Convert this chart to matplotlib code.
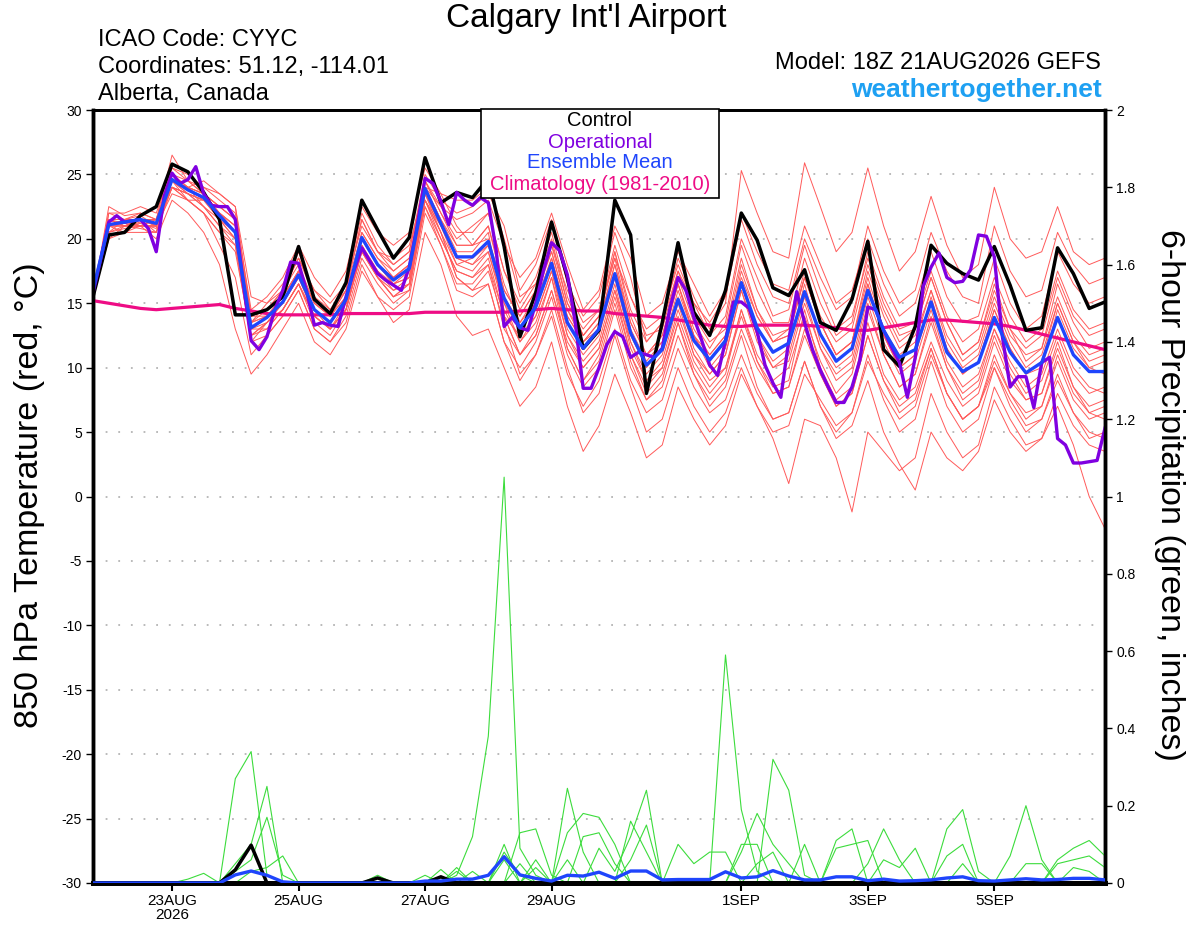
import numpy as np
import pandas as pd
import matplotlib
matplotlib.use('Agg')
import matplotlib.pyplot as plt
from matplotlib.patches import Rectangle

plt.rcParams['font.family'] = 'Liberation Sans'
plt.rcParams['axes.unicode_minus'] = False

# 6-hourly ensemble times, 3-hourly operational run
times6 = pd.date_range('2026-08-21 18:00', periods=65, freq='6h')
times3 = pd.date_range('2026-08-21 18:00', periods=129, freq='3h')

tick_dates = ['2026-08-23', '2026-08-25', '2026-08-27', '2026-08-29',
              '2026-09-01', '2026-09-03', '2026-09-05']
tick_labels = ['23AUG\n2026', '25AUG', '27AUG', '29AUG', '1SEP', '3SEP', '5SEP']

# 850 hPa temperature (C)
control_t = [15.5, 20.3, 20.5, 21.8, 22.5, 25.8, 25.2, 23.6, 21.5, 14.1, 14.1, 14.5, 15.5,
             19.4, 15.3, 14.2, 16.6, 23.0, 20.7, 18.5, 20.1, 26.3, 22.8, 23.6, 23.2, 24.7,
             19.4, 12.4, 15.8, 21.3, 17.0, 11.5, 12.9, 23.0, 20.3, 8.0, 13.5, 19.7, 14.3,
             12.5, 16.0, 22.0, 19.9, 16.2, 15.6, 17.6, 13.5, 12.9, 15.3, 19.8, 11.4, 10.1,
             13.2, 19.5, 18.1, 17.3, 16.8, 19.4, 16.4, 12.9, 13.1, 19.3, 17.3, 14.6, 15.1]

mean_t = [16.0, 21.1, 21.3, 21.5, 21.2, 24.6, 23.8, 23.2, 21.8, 20.5, 13.1, 13.9, 15.1,
          17.2, 14.5, 13.5, 15.3, 20.1, 18.0, 16.8, 17.7, 23.9, 21.2, 18.6, 18.6, 19.8,
          15.4, 13.1, 14.7, 18.1, 13.5, 11.5, 13.0, 17.3, 12.7, 10.2, 11.4, 15.3, 12.1,
          10.6, 12.1, 16.6, 13.1, 11.2, 11.9, 15.9, 12.6, 10.5, 11.5, 16.0, 12.9, 10.8,
          11.4, 15.1, 11.2, 9.7, 10.4, 13.9, 11.2, 9.6, 10.4, 13.9, 11.0, 9.7, 9.7]

clim_t = [15.2, 15.0, 14.8, 14.6, 14.5, 14.6, 14.7, 14.8, 14.9, 14.6, 14.4, 14.2, 14.1,
          14.1, 14.1, 14.1, 14.2, 14.2, 14.2, 14.2, 14.2, 14.3, 14.3, 14.3, 14.3, 14.3,
          14.3, 14.4, 14.5, 14.6, 14.5, 14.4, 14.4, 14.2, 14.1, 14.0, 13.9, 13.7, 13.5,
          13.3, 13.2, 13.2, 13.3, 13.3, 13.3, 13.3, 13.2, 13.1, 12.9, 12.9, 13.1, 13.3,
          13.5, 13.7, 13.7, 13.6, 13.5, 13.4, 13.2, 12.9, 12.6, 12.3, 12.0, 11.7, 11.4]

oper_t = [15.8, 18.5, 21.3, 21.8, 21.3, 21.4, 21.5, 20.8,
          19.0, 23.3, 25.1, 24.3, 24.6, 25.6, 23.5, 22.6,
          22.5, 22.5, 21.5, 16.6, 12.1, 11.4, 12.4, 14.5,
          16.0, 18.2, 18.1, 16.0, 13.3, 13.5, 13.3, 13.2,
          15.5, 17.5, 19.3, 18.3, 17.3, 16.8, 16.4, 16.0,
          17.8, 21.0, 24.7, 24.3, 22.9, 21.1, 23.6, 23.0,
          22.6, 23.2, 22.8, 19.1, 13.2, 13.9, 13.1, 12.9,
          15.0, 17.6, 19.7, 19.1, 17.2, 13.5, 8.4, 8.4,
          10.0, 11.8, 12.8, 12.4, 10.8, 11.2, 11.0, 10.8,
          11.5, 14.7, 17.0, 16.0, 13.9, 12.1, 10.2, 9.4,
          12.1, 15.1, 15.1, 14.6, 12.8, 10.2, 8.8, 7.7,
          12.1, 15.9, 13.5, 11.4, 9.8, 8.5, 7.3, 7.3,
          8.5, 10.6, 14.7, 14.5, 12.9, 11.6, 10.4, 7.7,
          10.8, 16.3, 17.8, 18.9, 17.0, 16.6, 16.7, 17.6,
          20.3, 20.2, 18.6, 12.5, 8.5, 9.3, 9.3, 6.9,
          10.4, 10.8, 4.5, 4.0, 2.6, 2.6, 2.7, 2.8,
          5.3]

t_p01 = [15.4, 22.5, 21.8, 22.0, 21.5, 26.5, 24.5, 24.0, 23.5, 22.5, 14.0, 14.5, 16.0,
         18.5, 16.0, 15.0, 16.5, 22.0, 19.5, 18.0, 19.0, 25.0, 23.0, 22.0, 22.5, 23.5,
         21.0, 16.0, 18.0, 21.5, 16.5, 14.0, 15.5, 20.5, 17.0, 12.0, 13.5, 18.5, 15.5,
         13.0, 15.0, 25.3, 22.0, 19.0, 18.5, 25.9, 22.5, 19.0, 20.5, 25.5, 21.0, 17.5,
         19.0, 23.3, 19.5, 17.0, 18.0, 24.0, 20.0, 18.5, 19.0, 22.5, 19.0, 18.0, 18.5]
t_p02 = [15.6, 21.5, 21.0, 21.2, 20.8, 25.0, 24.0, 23.5, 22.5, 21.5, 13.5, 14.0, 15.5,
         19.0, 15.5, 14.0, 16.0, 21.5, 19.0, 17.5, 18.5, 24.5, 22.0, 20.0, 21.0, 22.0,
         17.5, 14.5, 16.5, 20.0, 15.0, 13.0, 14.5, 19.5, 15.5, 13.0, 14.0, 18.0, 15.0,
         13.5, 15.5, 21.5, 18.0, 15.5, 15.0, 20.0, 17.0, 14.5, 15.5, 21.0, 17.5, 15.0,
         16.0, 20.5, 17.5, 15.5, 15.0, 21.0, 17.5, 15.5, 16.0, 20.5, 18.0, 16.5, 17.0]
t_p03 = [15.5, 20.5, 21.5, 21.8, 21.0, 24.0, 23.5, 22.5, 21.0, 19.5, 12.5, 13.5, 15.0,
         17.0, 14.0, 13.0, 15.0, 19.5, 17.5, 16.0, 17.0, 23.5, 21.0, 18.5, 18.0, 19.5,
         15.0, 13.0, 15.0, 18.5, 14.0, 12.0, 13.5, 18.0, 13.5, 11.0, 12.5, 16.5, 13.0,
         11.0, 12.5, 17.0, 14.0, 12.0, 12.5, 17.0, 13.5, 11.0, 12.0, 17.5, 14.0, 11.5,
         12.5, 16.0, 12.5, 10.5, 11.5, 15.5, 12.5, 11.0, 11.5, 15.5, 12.5, 11.0, 11.5]
t_p04 = [15.3, 21.0, 21.0, 20.8, 20.5, 24.5, 23.0, 22.0, 19.5, 17.0, 11.0, 12.5, 14.0,
         16.0, 13.0, 12.0, 14.0, 18.5, 16.5, 15.0, 16.0, 22.5, 19.5, 16.0, 15.5, 16.5,
         12.0, 10.0, 12.0, 15.5, 11.0, 8.5, 10.0, 14.5, 10.0, 7.5, 8.5, 12.5, 9.5,
         7.5, 9.0, 13.0, 10.0, 8.0, 8.5, 12.5, 9.5, 7.0, 8.0, 12.5, 9.0, 7.0,
         8.0, 11.5, 8.0, 6.0, 7.0, 10.5, 8.0, 6.5, 7.0, 10.5, 7.5, 6.0, 6.5]
t_p05 = [15.6, 21.5, 21.2, 21.0, 21.0, 25.0, 24.0, 23.0, 22.0, 21.0, 13.0, 13.0, 14.5,
         16.5, 13.5, 12.5, 14.5, 19.0, 17.0, 15.5, 16.0, 23.0, 20.5, 17.0, 16.0, 17.5,
         13.5, 9.5, 11.0, 14.5, 10.0, 6.5, 8.0, 12.5, 8.5, 5.0, 6.0, 10.0, 7.0,
         5.0, 6.5, 10.0, 7.0, 4.5, 1.0, 6.0, 5.5, 3.0, -1.2, 5.0, 3.5, 2.0,
         3.0, 8.0, 5.0, 3.0, 4.0, 8.5, 6.0, 4.0, 4.5, 7.0, 4.0, 0.0, -2.5]
t_p06 = [15.4, 20.0, 20.5, 21.0, 21.5, 25.5, 25.0, 24.0, 23.0, 22.0, 14.5, 15.5, 17.0,
         19.5, 17.0, 15.5, 17.5, 22.5, 20.5, 19.5, 20.5, 25.5, 23.5, 21.0, 19.5, 20.0,
         16.0, 14.0, 16.0, 19.0, 14.5, 12.0, 13.0, 17.0, 12.5, 10.0, 11.5, 16.0, 12.5,
         10.5, 12.0, 17.5, 14.0, 12.0, 13.0, 17.5, 14.0, 12.0, 13.0, 18.0, 14.5, 12.0,
         13.0, 17.0, 13.5, 11.0, 12.0, 16.5, 13.0, 11.5, 12.5, 17.0, 14.0, 12.5, 13.0]
t_p07 = [15.5, 21.0, 21.5, 22.0, 21.5, 24.5, 24.0, 24.5, 23.5, 22.5, 15.5, 15.0, 16.0,
         18.0, 15.0, 14.0, 15.5, 20.0, 18.0, 17.0, 18.0, 24.0, 21.5, 19.0, 19.0, 20.5,
         14.0, 11.0, 13.0, 17.0, 11.5, 9.0, 11.0, 15.5, 11.0, 8.5, 10.0, 14.0, 10.5,
         8.5, 10.0, 14.5, 11.0, 9.0, 10.0, 14.0, 10.5, 8.0, 9.5, 14.5, 11.0, 8.5,
         9.5, 13.5, 10.0, 8.0, 9.0, 13.0, 10.0, 8.0, 9.0, 12.5, 9.5, 8.0, 8.5]
t_p08 = [15.5, 21.5, 21.0, 21.5, 21.0, 24.0, 23.5, 23.0, 21.5, 20.0, 12.0, 13.5, 15.0,
         17.5, 14.5, 13.0, 14.5, 20.5, 18.5, 17.5, 18.5, 24.0, 22.5, 21.5, 22.0, 23.0,
         19.5, 17.0, 18.5, 22.0, 18.0, 14.5, 16.0, 21.0, 18.5, 14.0, 15.0, 19.0, 16.5,
         14.0, 16.0, 22.0, 19.0, 16.5, 16.0, 21.0, 18.0, 15.0, 16.0, 20.0, 16.5, 14.0,
         15.0, 19.0, 15.5, 13.5, 14.0, 18.5, 15.0, 13.0, 14.0, 19.0, 16.5, 15.0, 15.5]
t_p09 = [15.5, 20.5, 20.8, 21.0, 21.0, 23.5, 23.0, 22.0, 20.5, 19.0, 12.5, 13.0, 14.5,
         16.5, 14.0, 13.0, 14.5, 19.0, 17.0, 15.5, 16.5, 23.0, 20.0, 17.5, 17.0, 18.0,
         14.0, 12.5, 14.0, 17.5, 12.5, 10.5, 12.0, 16.5, 11.5, 9.0, 10.5, 15.0, 11.0,
         9.5, 11.0, 16.0, 12.0, 10.0, 11.0, 15.5, 11.5, 9.5, 10.5, 15.5, 12.0, 9.5,
         10.5, 14.5, 10.5, 8.5, 9.5, 13.0, 10.5, 8.5, 9.5, 13.0, 10.0, 8.5, 8.0]
t_p10 = [15.4, 21.0, 21.5, 21.0, 20.0, 23.0, 22.0, 20.5, 18.0, 13.0, 9.5, 11.0, 13.0,
         15.0, 12.0, 11.0, 13.0, 17.5, 15.5, 14.5, 15.5, 22.0, 19.5, 16.5, 16.5, 18.0,
         13.0, 11.0, 12.5, 16.0, 12.0, 10.0, 11.5, 16.0, 11.0, 8.0, 9.5, 13.5, 10.0,
         8.0, 9.5, 14.5, 10.5, 8.5, 9.0, 14.5, 10.0, 7.5, 8.5, 13.5, 9.5, 7.5,
         8.5, 12.0, 9.0, 7.0, 8.0, 12.0, 9.0, 7.5, 8.0, 11.5, 8.5, 7.0, 7.5]
t_p11 = [15.5, 21.5, 21.0, 21.5, 21.0, 24.5, 23.5, 23.0, 21.5, 20.0, 13.0, 14.0, 15.0,
         17.0, 14.5, 13.5, 15.0, 19.5, 17.5, 16.5, 17.0, 23.0, 20.5, 17.0, 16.0, 16.5,
         12.0, 9.0, 11.0, 14.0, 9.5, 7.0, 9.0, 13.0, 9.0, 6.5, 7.5, 11.5, 8.5,
         6.5, 7.5, 11.0, 8.0, 6.0, 6.5, 10.5, 7.0, 5.0, 6.5, 11.0, 7.5, 5.0,
         6.0, 10.5, 7.0, 5.0, 6.0, 10.0, 7.0, 5.0, 6.0, 9.5, 6.5, 5.0, 4.5]
t_p12 = [15.5, 22.0, 21.5, 21.5, 21.5, 25.0, 24.5, 23.5, 22.5, 21.5, 14.0, 14.5, 15.5,
         17.5, 15.0, 14.0, 16.0, 20.5, 18.5, 17.0, 18.0, 24.5, 22.0, 19.5, 19.5, 21.0,
         16.5, 13.5, 15.5, 19.0, 14.5, 12.5, 14.0, 18.5, 13.5, 11.0, 12.5, 17.0, 13.5,
         11.5, 13.5, 19.5, 16.0, 13.5, 13.5, 18.5, 15.0, 12.5, 13.5, 19.0, 15.5, 13.0,
         13.5, 17.5, 14.0, 12.0, 13.0, 17.0, 14.0, 12.0, 13.0, 17.5, 14.5, 13.0, 13.5]
t_p13 = [15.5, 21.0, 20.5, 20.5, 20.5, 24.0, 23.0, 22.0, 20.5, 19.5, 12.0, 12.5, 14.0,
         16.0, 13.0, 12.0, 13.5, 18.0, 15.5, 13.5, 14.5, 20.5, 18.0, 14.0, 12.5, 13.0,
         10.0, 7.0, 8.5, 12.0, 7.0, 3.5, 5.5, 9.5, 6.5, 3.0, 4.0, 8.5, 6.0,
         4.0, 5.5, 9.5, 7.0, 5.0, 5.5, 9.5, 7.5, 5.5, 6.5, 10.5, 8.0, 6.0,
         7.0, 11.0, 8.0, 6.0, 7.0, 10.0, 7.5, 5.5, 6.0, 9.0, 6.5, 4.5, 5.0]
t_p14 = [15.6, 20.0, 21.0, 21.3, 21.5, 24.5, 24.0, 23.5, 22.0, 21.0, 13.5, 14.5, 16.0,
         18.5, 15.5, 14.5, 16.5, 21.0, 19.0, 18.0, 19.0, 24.5, 22.5, 20.5, 20.5, 22.0,
         17.5, 15.0, 17.0, 20.5, 15.5, 12.5, 14.0, 19.0, 14.0, 11.0, 12.0, 16.5, 12.5,
         10.0, 11.5, 16.5, 12.5, 10.0, 10.5, 15.0, 11.5, 9.0, 10.0, 15.0, 11.0, 8.5,
         9.5, 14.0, 10.0, 7.5, 8.5, 12.5, 9.5, 7.5, 8.0, 12.0, 8.5, 6.5, 6.0]
t_p15 = [15.4, 21.0, 21.0, 21.0, 21.5, 24.0, 23.0, 23.0, 22.0, 21.0, 13.0, 13.5, 14.5,
         16.5, 14.0, 13.0, 14.5, 19.5, 17.0, 16.0, 16.5, 23.5, 20.5, 18.0, 17.5, 19.0,
         14.5, 12.0, 14.0, 17.5, 13.0, 11.0, 12.5, 17.0, 12.0, 9.5, 11.0, 15.5, 11.5,
         9.5, 11.0, 16.0, 12.5, 10.5, 11.5, 16.5, 12.0, 10.0, 11.0, 16.5, 12.5, 10.0,
         11.0, 15.5, 11.5, 9.5, 10.5, 14.5, 11.5, 9.5, 10.0, 14.5, 11.5, 10.0, 9.5]
t_p16 = [15.5, 22.0, 22.0, 22.5, 22.0, 25.5, 24.5, 23.5, 22.0, 20.5, 13.5, 15.0, 16.5,
         18.5, 16.0, 14.5, 16.0, 21.5, 19.0, 18.5, 19.5, 24.0, 23.5, 23.0, 23.0, 24.0,
         20.0, 15.5, 16.5, 19.5, 16.0, 13.5, 14.5, 18.5, 15.5, 12.5, 13.0, 17.5, 15.0,
         12.5, 14.0, 20.0, 17.0, 14.0, 14.5, 19.5, 16.0, 13.0, 14.0, 18.5, 15.0, 12.5,
         13.0, 17.0, 13.5, 11.0, 12.0, 16.0, 13.0, 10.5, 11.5, 16.5, 13.5, 11.5, 12.0]
t_p17 = [15.5, 21.0, 21.5, 21.5, 20.5, 24.5, 23.5, 22.5, 21.5, 20.5, 13.5, 14.0, 15.0,
         17.0, 14.5, 13.5, 15.0, 20.0, 18.0, 16.5, 17.5, 23.5, 21.0, 18.5, 18.0, 19.0,
         15.0, 12.0, 13.5, 17.0, 12.5, 10.0, 11.5, 16.0, 12.0, 9.0, 10.0, 14.5, 11.0,
         9.0, 10.0, 14.0, 10.5, 8.0, 8.5, 13.0, 9.5, 7.0, 8.0, 12.5, 9.0, 6.5,
         7.5, 11.5, 8.0, 6.0, 7.0, 11.0, 8.0, 6.0, 7.0, 11.0, 8.0, 6.5, 7.0]
t_p18 = [15.5, 21.5, 21.5, 21.0, 21.0, 24.5, 24.0, 23.5, 22.5, 21.5, 14.0, 14.0, 15.5,
         17.5, 15.0, 14.0, 15.5, 20.0, 18.0, 16.5, 17.0, 23.0, 21.0, 18.0, 18.5, 19.5,
         15.5, 13.5, 15.0, 18.5, 14.0, 12.0, 13.5, 18.0, 13.0, 10.5, 12.0, 16.5, 12.5,
         11.0, 12.5, 18.0, 14.5, 12.5, 13.0, 17.0, 13.5, 11.0, 12.0, 17.0, 13.0, 11.0,
         12.0, 16.0, 12.0, 10.0, 11.0, 15.0, 12.0, 10.0, 11.0, 15.0, 12.0, 10.0, 10.5]
t_p19 = [15.5, 20.5, 21.0, 21.5, 21.0, 25.0, 24.0, 22.5, 21.0, 20.0, 12.5, 13.5, 14.5,
         16.5, 14.0, 13.0, 14.5, 19.0, 17.0, 15.5, 16.5, 22.5, 20.0, 17.5, 17.0, 18.5,
         14.0, 11.0, 12.5, 16.0, 11.5, 9.0, 10.5, 15.0, 10.5, 7.5, 9.0, 13.5, 9.5,
         7.0, 8.5, 12.5, 8.5, 6.0, 6.5, 10.5, 7.0, 4.5, 5.5, 9.0, 5.0, 2.5,
         0.5, 5.0, 3.0, 2.0, 3.5, 7.5, 5.0, 3.5, 4.5, 8.0, 5.5, 4.0, 3.5]
t_p20 = [15.5, 21.0, 21.0, 21.0, 21.0, 24.0, 23.5, 23.0, 22.0, 20.5, 13.0, 14.0, 15.5,
         17.5, 14.5, 13.5, 15.0, 20.0, 18.0, 17.0, 18.0, 24.0, 21.5, 19.5, 19.5, 21.0,
         16.0, 14.0, 16.0, 19.5, 15.0, 12.5, 14.0, 19.0, 14.5, 12.0, 13.5, 17.5, 14.0,
         12.0, 13.0, 18.5, 14.5, 12.0, 12.5, 17.0, 13.5, 11.0, 12.0, 16.5, 12.5, 10.0,
         11.0, 15.0, 11.5, 9.5, 10.5, 14.5, 11.5, 9.5, 10.5, 15.0, 12.0, 10.5, 11.0]

# 6-hour precipitation (inches)
control_p = [0, 0, 0, 0, 0, 0, 0, 0, 0, 0.034, 0.098, 0, 0,
             0, 0, 0, 0, 0, 0.013, 0, 0, 0, 0.016, 0, 0, 0,
             0, 0, 0, 0, 0, 0, 0, 0, 0, 0, 0, 0, 0,
             0, 0, 0, 0, 0, 0, 0, 0, 0, 0, 0, 0, 0,
             0, 0, 0, 0, 0, 0, 0, 0, 0, 0, 0, 0, 0]
mean_p = [0, 0, 0, 0, 0, 0, 0, 0, 0, 0.021, 0.031, 0.02, 0.003,
          0, 0, 0, 0, 0, 0, 0, 0, 0.005, 0.005, 0.01, 0.01, 0.02,
          0.068, 0.021, 0.012, 0.005, 0.02, 0.018, 0.028, 0.012, 0.031, 0.031, 0.008, 0.009, 0.009,
          0.009, 0.029, 0.013, 0.016, 0.032, 0.018, 0.008, 0.008, 0.016, 0.016, 0.006, 0.01, 0.005,
          0.006, 0.008, 0.013, 0.016, 0.006, 0.005, 0.008, 0.011, 0.008, 0.009, 0.012, 0.012, 0.008]

p_a = [0, 0, 0, 0, 0, 0, 0, 0, 0, 0, 0, 0, 0,
       0, 0, 0, 0, 0, 0, 0, 0, 0, 0, 0.02, 0.12, 0.38,
       1.05, 0.09, 0.02, 0, 0, 0, 0, 0, 0, 0, 0, 0, 0,
       0, 0, 0, 0, 0, 0, 0, 0, 0, 0, 0, 0, 0,
       0, 0, 0.07, 0.10, 0, 0, 0, 0, 0, 0, 0, 0, 0]
p_b = [0, 0, 0, 0, 0, 0, 0, 0, 0, 0.27, 0.34, 0.02, 0,
       0, 0, 0, 0, 0, 0, 0, 0, 0, 0, 0, 0, 0,
       0.10, 0, 0.04, 0, 0, 0, 0, 0, 0, 0, 0, 0, 0,
       0, 0.59, 0.19, 0.03, 0, 0, 0, 0, 0, 0, 0, 0, 0,
       0, 0, 0, 0.05, 0, 0, 0, 0, 0, 0, 0, 0, 0]
p_c = [0, 0, 0, 0, 0, 0, 0, 0, 0, 0.05, 0.10, 0.25, 0,
       0, 0, 0, 0, 0, 0, 0, 0, 0, 0, 0, 0, 0,
       0.08, 0.02, 0, 0, 0, 0, 0, 0, 0, 0, 0, 0, 0,
       0, 0, 0.08, 0.18, 0.10, 0.05, 0, 0, 0, 0, 0, 0, 0,
       0, 0, 0, 0, 0, 0, 0.07, 0.20, 0.06, 0, 0, 0, 0]
p_d = [0, 0, 0, 0, 0, 0, 0, 0, 0, 0.03, 0.06, 0.17, 0.02,
       0, 0, 0, 0, 0, 0, 0, 0, 0, 0, 0, 0, 0,
       0.06, 0, 0, 0, 0, 0, 0, 0, 0, 0, 0, 0, 0,
       0, 0, 0.10, 0.10, 0, 0, 0, 0, 0, 0, 0, 0, 0,
       0, 0, 0, 0, 0, 0, 0, 0.05, 0.05, 0, 0, 0, 0]
p_e = [0, 0, 0, 0, 0, 0, 0, 0, 0, 0, 0.03, 0.04, 0.07,
       0, 0, 0, 0, 0, 0, 0, 0, 0, 0, 0, 0, 0,
       0, 0.13, 0.14, 0.02, 0, 0, 0, 0, 0, 0, 0, 0, 0,
       0, 0, 0, 0.05, 0.08, 0, 0, 0, 0, 0, 0, 0, 0,
       0, 0, 0, 0, 0, 0, 0, 0, 0, 0.06, 0.09, 0.11, 0.07]
p_f = [0, 0, 0, 0, 0, 0, 0.01, 0.025, 0, 0, 0, 0, 0,
       0, 0, 0, 0, 0, 0.02, 0, 0, 0, 0.035, 0, 0, 0,
       0, 0.05, 0, 0, 0.245, 0.08, 0, 0, 0, 0, 0, 0, 0,
       0, 0, 0, 0, 0.32, 0.24, 0.02, 0, 0, 0, 0, 0, 0,
       0, 0, 0, 0, 0, 0, 0, 0, 0, 0.05, 0.06, 0.07, 0.04]
p_g = [0, 0, 0, 0, 0, 0, 0, 0, 0, 0, 0, 0, 0,
       0, 0, 0, 0, 0, 0.015, 0, 0, 0, 0, 0.04, 0, 0,
       0, 0, 0.06, 0, 0.13, 0.18, 0.17, 0.10, 0, 0, 0, 0, 0,
       0, 0, 0, 0, 0, 0, 0.10, 0, 0, 0, 0, 0, 0,
       0, 0, 0, 0, 0, 0, 0, 0, 0, 0, 0.04, 0.03, 0]
p_h = [0, 0, 0, 0, 0, 0, 0, 0, 0, 0, 0, 0, 0,
       0, 0, 0, 0, 0, 0, 0, 0, 0.02, 0, 0.03, 0, 0,
       0, 0, 0, 0, 0.06, 0, 0, 0, 0.16, 0.08, 0, 0, 0,
       0, 0, 0, 0, 0, 0, 0, 0, 0.11, 0.14, 0, 0, 0,
       0, 0, 0, 0, 0, 0, 0, 0, 0, 0, 0, 0, 0]
p_i = [0, 0, 0, 0, 0, 0, 0, 0, 0, 0, 0, 0, 0,
       0, 0, 0, 0, 0, 0, 0, 0, 0, 0, 0, 0.03, 0,
       0, 0, 0, 0, 0, 0.12, 0.13, 0.05, 0, 0, 0, 0, 0,
       0, 0, 0, 0, 0, 0, 0, 0, 0.09, 0.10, 0.11, 0, 0,
       0, 0, 0, 0, 0, 0, 0, 0, 0, 0, 0, 0, 0]
p_j = [0, 0, 0, 0, 0, 0, 0, 0, 0, 0, 0, 0, 0,
       0, 0, 0, 0, 0, 0, 0, 0, 0, 0, 0, 0, 0,
       0, 0, 0, 0, 0, 0, 0.09, 0.03, 0.12, 0.24, 0, 0, 0,
       0, 0, 0, 0, 0, 0, 0, 0, 0, 0, 0.05, 0.14, 0.06,
       0, 0, 0, 0, 0, 0, 0, 0, 0, 0, 0, 0, 0]
p_k = [0, 0, 0, 0, 0, 0, 0, 0, 0, 0, 0, 0, 0,
       0, 0, 0, 0, 0, 0, 0, 0, 0, 0, 0, 0, 0,
       0, 0, 0, 0, 0, 0, 0, 0, 0.06, 0.15, 0, 0, 0,
       0, 0, 0, 0, 0, 0, 0, 0, 0, 0, 0, 0.06, 0.04,
       0.09, 0, 0, 0, 0, 0, 0, 0, 0, 0, 0, 0, 0]
p_l = [0, 0, 0, 0, 0, 0, 0, 0, 0, 0, 0, 0, 0,
       0, 0, 0, 0, 0, 0, 0, 0, 0, 0, 0, 0, 0,
       0, 0, 0, 0, 0, 0, 0, 0, 0, 0, 0, 0.10, 0.05,
       0.08, 0.08, 0, 0, 0, 0, 0, 0, 0, 0, 0, 0, 0,
       0, 0, 0.14, 0.19, 0.03, 0, 0, 0, 0, 0, 0, 0, 0]

temp_members = [t_p01, t_p02, t_p03, t_p04, t_p05, t_p06, t_p07, t_p08, t_p09, t_p10,
                t_p11, t_p12, t_p13, t_p14, t_p15, t_p16, t_p17, t_p18, t_p19, t_p20]
precip_members = [p_a, p_b, p_c, p_d, p_e, p_f, p_g, p_h, p_i, p_j, p_k, p_l]

RED = '#ff5a5a'
GREEN = '#3cdc3c'
PURPLE = '#8000e0'
BLUE = '#1f45fc'
MAGENTA = '#ee0c85'

fig = plt.figure(figsize=(12, 9.27), dpi=100)
ax = fig.add_axes([93 / 1200, 1 - 883 / 927, 1012 / 1200, 773 / 927])
ax2 = ax.twinx()

for lev in range(-25, 30, 5):
    ax.axhline(lev, color='#b4b4b4', lw=1.3, ls=(0, (1, 6)), zorder=1)

for m in temp_members:
    ax.plot(times6, m, color=RED, lw=0.7, zorder=2)
ax.plot(times6, clim_t, color=MAGENTA, lw=2.3, zorder=3)
ax.plot(times6, control_t, color='black', lw=2.5, zorder=4)
ax.plot(times3, oper_t, color=PURPLE, lw=2.4, zorder=5)
ax.plot(times6, mean_t, color=BLUE, lw=2.4, zorder=6)

for m in precip_members:
    ax2.plot(times6, m, color=GREEN, lw=0.8, zorder=2)
ax2.plot(times6, control_p, color='black', lw=2.5, zorder=3)
ax2.plot(times6, mean_p, color=BLUE, lw=2.4, zorder=4)

ax.set_xlim(times6[0], times6[-1])
ax.set_ylim(-30, 30)
ax2.set_ylim(0, 2)

ax.set_yticks(range(-30, 31, 5))
ax.set_yticklabels([str(v) for v in range(-30, 31, 5)])
ax2.set_yticks(np.arange(0, 2.01, 0.2))
ax2.set_yticklabels(['%g' % round(v, 1) for v in np.arange(0, 2.01, 0.2)])
ax.set_xticks(pd.to_datetime(tick_dates))
ax.set_xticklabels(tick_labels, linespacing=1.0)

ax.tick_params(axis='y', direction='out', length=5, width=1, labelsize=10, pad=3)
ax2.tick_params(axis='y', direction='out', length=5, width=1, labelsize=10, pad=3)
ax.tick_params(axis='x', direction='out', length=6, width=1.5, labelsize=11, pad=2)

for a in (ax, ax2):
    a.spines['left'].set_linewidth(2.5)
    a.spines['right'].set_linewidth(2.5)
    a.spines['bottom'].set_linewidth(3.5)
    a.spines['top'].set_linewidth(2)

# header texts
fig.text(586 / 1200, 1 - 18 / 927, "Calgary Int'l Airport", fontsize=24,
         ha='center', va='center')
fig.text(98 / 1200, 1 - 40 / 927, 'ICAO Code: CYYC', fontsize=17, ha='left', va='center')
fig.text(98 / 1200, 1 - 67 / 927, 'Coordinates: 51.12, -114.01', fontsize=17,
         ha='left', va='center')
fig.text(98 / 1200, 1 - 94 / 927, 'Alberta, Canada', fontsize=17, ha='left', va='center')
fig.text(1101 / 1200, 1 - 63 / 927, 'Model: 18Z 21AUG2026 GEFS', fontsize=17,
         ha='right', va='center')
fig.text(1102 / 1200, 1 - 90 / 927, 'weathertogether.net', fontsize=19,
         fontweight='bold', color='#1ea0f2', ha='right', va='center')

# axis titles
fig.text(30 / 1200, 1 - 495 / 927, '850 hPa Temperature (red, \u00b0C)', fontsize=24.5,
         rotation=90, ha='center', va='center')
fig.text(1170 / 1200, 1 - 495 / 927, '6-hour Precipitation (green, inches)', fontsize=24.5,
         rotation=-90, ha='center', va='center')

# legend box
fig.add_artist(Rectangle((481 / 1200, 1 - 198 / 927), 238 / 1200, 89 / 927,
                         transform=fig.transFigure, facecolor='white',
                         edgecolor='black', lw=1.2, zorder=5))
legend_items = [('Control', 'black', 121), ('Operational', PURPLE, 142),
                ('Ensemble Mean', BLUE, 163), ('Climatology (1981-2010)', MAGENTA, 185)]
for label, col, ypix in legend_items:
    fig.text(600 / 1200, 1 - ypix / 927, label, color=col, fontsize=14.5,
             ha='center', va='center', zorder=6)

fig.savefig('out.png', dpi=100)
